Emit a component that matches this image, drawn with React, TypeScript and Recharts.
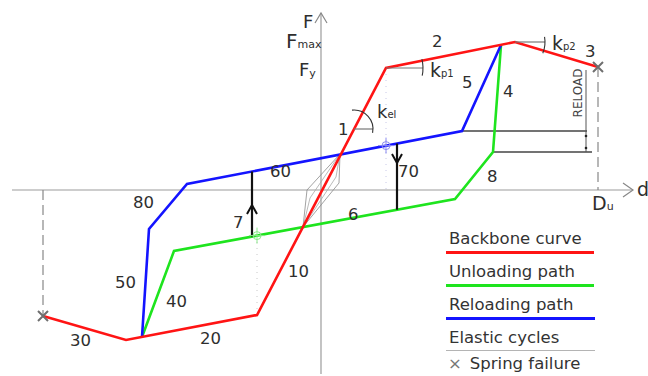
import React from 'react';
import {
  ComposedChart,
  Line,
  XAxis,
  YAxis,
  ReferenceLine,
  ReferenceDot,
  Legend
} from 'recharts';

const FONT = '"DejaVu Sans", Verdana, sans-serif';
const RED = '#ff1414';
const GREEN = '#1ee41e';
const BLUE = '#1414ff';
const AXIS = '#9c9c9c';
const INK = '#2e2e2e';

// backbone curve: negative branch (30, 20, 10) and positive branch (1, 2, 3)
const backboneD = [-27.8, -19.5, -6.4, 6.5, 19.4, 27.7];
const backboneF = [-12.6, -15.0, -12.5, 12.2, 14.8, 12.3];

// unloading path 4 -> 8 -> 6 -> 40
const unloadingD = [18.0, 17.2, 13.4, -14.7, -17.9];
const unloadingF = [14.5, 3.8, -0.9, -6.1, -14.7];

// reloading path 50 -> 80 -> 60 -> 5
const reloadingD = [-17.9, -17.2, -13.4, 14.1, 18.0];
const reloadingF = [-14.7, -3.9, 0.6, 5.9, 14.5];

// small elastic loops around the origin
const elasticD = [1.9, 1.8, -1.8, -1.4, 1.9];
const elasticF = [3.6, 0.7, -3.7, 0.0, 3.6];
const elastic2D = [1.9, 1.5, -1.8, -1.1, 1.9];
const elastic2F = [3.6, 1.3, -3.7, -0.8, 3.6];

// spring failure points (ends of the backbone)
const failureD = [-27.8, 27.7];
const failureF = [-12.6, 12.3];

// branch numbers
const branchText = ['1', '2', '3', '4', '5', '6', '7', '8', '10', '20', '30', '40', '50', '60', '70', '80'];
const branchD = [1.7, 11.1, 26.4, 18.2, 14.1, 2.7, -8.8, 16.6, -3.3, -12.1, -25.1, -15.5, -20.6, -5.1, 7.7, -18.8];
const branchF = [5.5, 14.3, 13.3, 9.3, 10.2, -3.0, -3.8, 0.8, -8.7, -15.4, -15.6, -11.7, -9.8, 1.3, 1.3, -1.8];

const legendLabels = ['Backbone curve', 'Unloading path', 'Reloading path', 'Elastic cycles'];
const legendColors = [RED, GREEN, BLUE, '#b4b4b4'];

const pts = (ds: number[], fs: number[]) => ds.map((d, i) => ({ d, F: fs[i] }));

const arcPath = (cx: number, cy: number, r: number, a0: number, a1: number) => {
  const p = (a: number) => {
    const t = (a * Math.PI) / 180;
    return `${cx + r * Math.cos(t)} ${cy - r * Math.sin(t)}`;
  };
  return `M ${p(a0)} A ${r} ${r} 0 0 0 ${p(a1)}`;
};

// stiffness marker: horizontal reference + arc between it and the branch
const stiffness = (r: number, len: number, a0: number, a1: number) => (props: any) => {
  const { cx, cy } = props;
  return (
    <g fill="none">
      <line x1={cx} y1={cy} x2={cx + len} y2={cy} stroke="#777" strokeWidth={1.2} />
      <path d={arcPath(cx, cy, r, a0, a1)} stroke="#333" strokeWidth={1.1} />
    </g>
  );
};

const chevron = (dir: 'up' | 'down' | 'right', len: number, half: number, color: string, w: number) => (props: any) => {
  const { cx, cy } = props;
  let d = '';
  if (dir === 'up') d = `M ${cx - half} ${cy + len} L ${cx} ${cy} L ${cx + half} ${cy + len}`;
  if (dir === 'down') d = `M ${cx - half} ${cy - len} L ${cx} ${cy} L ${cx + half} ${cy - len}`;
  if (dir === 'right') d = `M ${cx - len} ${cy - half} L ${cx} ${cy} L ${cx - len} ${cy + half}`;
  return <path d={d} fill="none" stroke={color} strokeWidth={w} />;
};

const crosshair = (color: string) => (props: any) => {
  const { cx, cy } = props;
  return (
    <g fill="none" stroke={color} strokeWidth={1}>
      <circle cx={cx} cy={cy} r={4} />
      <line x1={cx} y1={cy - 8} x2={cx} y2={cy + 8} />
      <line x1={cx - 8} y1={cy} x2={cx + 8} y2={cy} />
    </g>
  );
};

const renderCross = (props: any) => {
  const { cx, cy, index } = props;
  return (
    <path
      key={`x-${index}`}
      d={`M ${cx - 5} ${cy - 5} L ${cx + 5} ${cy + 5} M ${cx - 5} ${cy + 5} L ${cx + 5} ${cy - 5}`}
      fill="none"
      stroke="#6f6f6f"
      strokeWidth={2}
    />
  );
};

const note = (key: string, d: number, F: number, main: string, sub: string, size: number, subSize = 11, subDy = 1) => (
  <ReferenceDot
    key={key}
    x={d}
    y={F}
    r={1}
    ifOverflow="visible"
    shape={(p: any) => (
      <text x={p.cx} y={p.cy} fontFamily={FONT} fontSize={size} fill={INK}>
        {main}
        {sub ? (
          <tspan fontSize={subSize} dy={subDy}>
            {sub}
          </tspan>
        ) : null}
      </text>
    )}
  />
);

const seg = (x1: number, y1: number, x2: number, y2: number) => [
  { x: x1, y: y1 },
  { x: x2, y: y2 }
];

const LegendBox = () => (
  <div style={{ position: 'relative', width: 160, height: 150, fontFamily: FONT, fontSize: 16.5, color: '#333' }}>
    {legendLabels.map((label, i) => (
      <React.Fragment key={label}>
        <div style={{ position: 'absolute', left: 3, top: 1 + 33 * i, lineHeight: '20px', whiteSpace: 'nowrap' }}>
          {label}
        </div>
        <div
          style={{
            position: 'absolute',
            left: 0,
            top: 23 + 33 * i,
            width: 148 + (i > 1 ? 1 : 0),
            height: i === 3 ? 1.2 : 2.5,
            background: legendColors[i]
          }}
        />
      </React.Fragment>
    ))}
    <div style={{ position: 'absolute', left: 2, top: 126, lineHeight: '20px', whiteSpace: 'nowrap' }}>
      <span style={{ color: '#777', marginRight: 8 }}>×</span>Spring failure
    </div>
  </div>
);

export default function App() {
  return (
    <div style={{ position: 'absolute', left: 0, top: 0, width: 648, height: 376, background: '#fff' }}>
      <ComposedChart width={648} height={376} margin={{ top: 0, right: 0, bottom: 0, left: 0 }}>
        <XAxis type="number" dataKey="d" domain={[-32.1, 32.7]} allowDataOverflow hide />
        <YAxis type="number" dataKey="F" domain={[-18.6, 19.0]} allowDataOverflow hide />

        {/* axes with open arrow heads */}
        <ReferenceLine segment={seg(-30.9, 0, 31.2, 0)} stroke={AXIS} strokeWidth={1.2} ifOverflow="visible" />
        <ReferenceLine segment={seg(0, -18.4, 0, 17.7)} stroke={AXIS} strokeWidth={1.2} ifOverflow="visible" />
        <ReferenceDot x={31.2} y={0} r={1} shape={chevron('right', 10, 7, '#888', 1.2)} />
        <ReferenceDot x={0} y={17.7} r={1} shape={chevron('up', 10, 6, '#888', 1.2)} />

        {/* failure displacement guides */}
        <ReferenceLine segment={seg(-27.8, 0, -27.8, -12.6)} stroke="#888" strokeDasharray="10 5" strokeWidth={1.2} />
        <ReferenceLine segment={seg(27.7, 12.3, 27.7, 0)} stroke="#888" strokeDasharray="10 5" strokeWidth={1.2} />

        {/* dotted guides through the reversal points */}
        <ReferenceLine segment={seg(6.5, 12.2, 6.5, 0)} stroke="#c8c8e8" strokeDasharray="1 5" />
        <ReferenceLine segment={seg(-6.4, -4.6, -6.4, -12.5)} stroke="#c8c8c8" strokeDasharray="1 5" />

        {/* RELOAD dimension */}
        <ReferenceLine segment={seg(14.1, 5.9, 26.6, 5.9)} stroke="#444" strokeWidth={1.3} />
        <ReferenceLine segment={seg(17.2, 3.8, 27.1, 3.8)} stroke="#444" strokeWidth={1.3} />
        <ReferenceLine segment={seg(26.5, 12.0, 26.5, 3.8)} stroke="#555" strokeWidth={1} />
        <ReferenceDot x={26.5} y={5.4} r={1.3} fill="#222" stroke="none" />
        <ReferenceDot x={26.5} y={4.2} r={1.3} fill="#222" stroke="none" />
        <ReferenceDot
          x={25.7}
          y={9.7}
          r={1}
          shape={(p: any) => (
            <text
              x={p.cx}
              y={p.cy}
              transform={`rotate(-90 ${p.cx} ${p.cy})`}
              textAnchor="middle"
              dominantBaseline="central"
              fontFamily={FONT}
              fontSize={12}
              fill="#444"
            >
              RELOAD
            </text>
          )}
        />

        {/* stiffness markers */}
        <ReferenceDot x={3.3} y={6.1} r={1} shape={stiffness(19, 19, -12, 96)} />
        <ReferenceDot x={6.5} y={12.2} r={1} shape={stiffness(37, 37, -12, 14)} />
        <ReferenceDot x={19.4} y={14.8} r={1} shape={stiffness(30, 30, -22, 10)} />

        <Line data={pts(elasticD, elasticF)} dataKey="F" stroke="#8a8a8a" strokeWidth={0.8} dot={false} activeDot={false} isAnimationActive={false} />
        <Line data={pts(elastic2D, elastic2F)} dataKey="F" stroke="#a8a8a8" strokeWidth={0.8} dot={false} activeDot={false} isAnimationActive={false} />
        <Line data={pts(unloadingD, unloadingF)} dataKey="F" stroke={GREEN} strokeWidth={2.6} dot={false} activeDot={false} isAnimationActive={false} />
        <Line data={pts(reloadingD, reloadingF)} dataKey="F" stroke={BLUE} strokeWidth={2.6} dot={false} activeDot={false} isAnimationActive={false} />
        <Line data={pts(backboneD, backboneF)} dataKey="F" stroke={RED} strokeWidth={2.6} dot={false} activeDot={false} isAnimationActive={false} />
        <Line
          data={pts(failureD, failureF)}
          dataKey="F"
          stroke="none"
          strokeWidth={0}
          dot={renderCross}
          activeDot={false}
          isAnimationActive={false}
        />

        {/* direction arrows between unloading and reloading */}
        <ReferenceLine segment={seg(-6.9, 1.85, -6.9, -4.66)} stroke="#111" strokeWidth={2.2} />
        <ReferenceDot x={-6.9} y={-1.5} r={1} shape={chevron('up', 9, 5, '#111', 2)} />
        <ReferenceLine segment={seg(7.6, 4.65, 7.6, -1.97)} stroke="#111" strokeWidth={2.2} />
        <ReferenceDot x={7.6} y={2.7} r={1} shape={chevron('down', 9, 5, '#111', 2)} />
        <ReferenceDot x={6.5} y={4.44} r={1} shape={crosshair('#8c8cf0')} />
        <ReferenceDot x={-6.4} y={-4.56} r={1} shape={crosshair('#8ce88c')} />

        {branchText.map((t, i) => note(`b${t}`, branchD[i], branchF[i], t, '', 16.5))}
        {note('F', -1.8, 16.2, 'F', '', 18)}
        {note('Fmax', -3.5, 14.2, 'F', 'max', 20, 11, 0)}
        {note('Fy', -2.2, 11.4, 'F', 'y', 18, 11, 1)}
        {note('kel', 5.6, 7.2, 'k', 'el', 18, 10, 0)}
        {note('kp1', 10.9, 11.3, 'k', 'p1', 19, 10, 0)}
        {note('kp2', 23.1, 14.0, 'k', 'p2', 19, 10, 0)}
        {note('Du', 27.1, -2.0, 'D', 'u', 19, 11, 0)}
        {note('d', 31.6, -0.6, 'd', '', 19)}

        <Legend
          layout="vertical"
          align="center"
          verticalAlign="middle"
          wrapperStyle={{ left: 446, top: 228, width: 160, height: 150 }}
          content={() => <LegendBox />}
        />
      </ComposedChart>
    </div>
  );
}
